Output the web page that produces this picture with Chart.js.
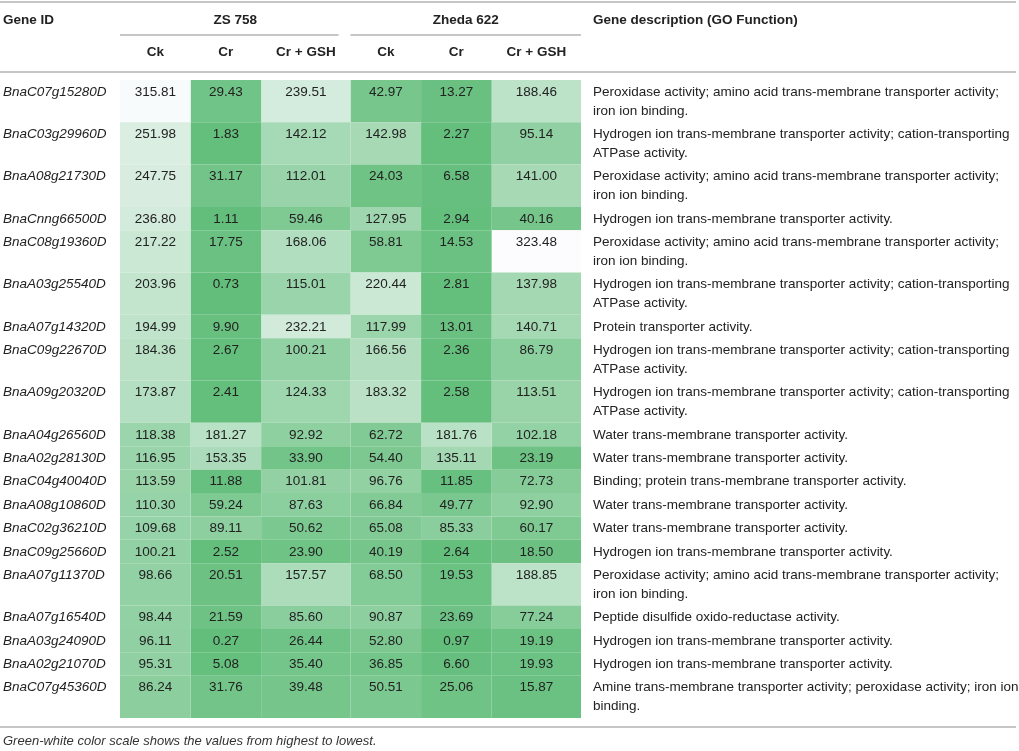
<!DOCTYPE html>
<html>
<head>
<meta charset="utf-8">
<script src="https://cdn.jsdelivr.net/npm/chart.js@4.4.1/dist/chart.umd.min.js"></script>
<style>
  html, body { margin: 0; padding: 0; background: #fff; }
  #wrap { position: relative; width: 1019px; height: 751px; }
</style>
</head>
<body>
<div id="wrap"><canvas id="heat"></canvas></div>
<script>
var geneIds = ['BnaC07g15280D', 'BnaC03g29960D', 'BnaA08g21730D', 'BnaCnng66500D', 'BnaC08g19360D',
  'BnaA03g25540D', 'BnaA07g14320D', 'BnaC09g22670D', 'BnaA09g20320D', 'BnaA04g26560D',
  'BnaA02g28130D', 'BnaC04g40040D', 'BnaA08g10860D', 'BnaC02g36210D', 'BnaC09g25660D',
  'BnaA07g11370D', 'BnaA07g16540D', 'BnaA03g24090D', 'BnaA02g21070D', 'BnaC07g45360D'];
var groups = ['ZS 758', 'Zheda 622'];
var treatments = ['Ck', 'Cr', 'Cr + GSH'];

var zsCk    = [315.81, 251.98, 247.75, 236.80, 217.22, 203.96, 194.99, 184.36, 173.87, 118.38,
               116.95, 113.59, 110.30, 109.68, 100.21, 98.66, 98.44, 96.11, 95.31, 86.24];
var zsCr    = [29.43, 1.83, 31.17, 1.11, 17.75, 0.73, 9.90, 2.67, 2.41, 181.27,
               153.35, 11.88, 59.24, 89.11, 2.52, 20.51, 21.59, 0.27, 5.08, 31.76];
var zsCrGsh = [239.51, 142.12, 112.01, 59.46, 168.06, 115.01, 232.21, 100.21, 124.33, 92.92,
               33.90, 101.81, 87.63, 50.62, 23.90, 157.57, 85.60, 26.44, 35.40, 39.48];
var zhCk    = [42.97, 142.98, 24.03, 127.95, 58.81, 220.44, 117.99, 166.56, 183.32, 62.72,
               54.40, 96.76, 66.84, 65.08, 40.19, 68.50, 90.87, 52.80, 36.85, 50.51];
var zhCr    = [13.27, 2.27, 6.58, 2.94, 14.53, 2.81, 13.01, 2.36, 2.58, 181.76,
               135.11, 11.85, 49.77, 85.33, 2.64, 19.53, 23.69, 0.97, 6.60, 25.06];
var zhCrGsh = [188.46, 95.14, 141.00, 40.16, 323.48, 137.98, 140.71, 86.79, 113.51, 102.18,
               23.19, 72.73, 92.90, 60.17, 18.50, 188.85, 77.24, 19.19, 19.93, 15.87];

var PEROX = ['Peroxidase activity; amino acid trans-membrane transporter activity;', 'iron ion binding.'];
var HYDRO_ATP = ['Hydrogen ion trans-membrane transporter activity; cation-transporting', 'ATPase activity.'];
var HYDRO = ['Hydrogen ion trans-membrane transporter activity.'];
var WATER = ['Water trans-membrane transporter activity.'];
var descriptions = [PEROX, HYDRO_ATP, PEROX, HYDRO, PEROX, HYDRO_ATP, ['Protein transporter activity.'],
  HYDRO_ATP, HYDRO_ATP, WATER, WATER, ['Binding; protein trans-membrane transporter activity.'],
  WATER, WATER, HYDRO, PEROX, ['Peptide disulfide oxido-reductase activity.'], HYDRO, HYDRO,
  ['Amine trans-membrane transporter activity; peroxidase activity; iron ion', 'binding.']];
var footnote = 'Green-white color scale shows the values from highest to lowest.';

// ---- layout ----
var FONT = "'Liberation Sans', Arial, Helvetica, sans-serif";
var colSpans = [15, 15, 19, 15, 15, 19];   // relative column widths, in slots
var ROW_PAD = 4.5, LINE_H = 18.9;
var RULE = '#c6c6c6', INK = '#222';

var columns = [zsCk, zsCr, zsCrGsh, zhCk, zhCr, zhCrGsh];

var slotLabels = [];
var centerSlot = [];
var s = 0;
colSpans.forEach(function (span) {
  centerSlot.push(String(s + (span - 1) / 2));
  s += span;
});
for (var i = 0; i < s; i++) slotLabels.push(String(i));

var rowTop = [], rowBot = [];
var acc = 0;
descriptions.forEach(function (d) {
  rowTop.push(acc);
  acc += ROW_PAD + LINE_H * d.length;
  rowBot.push(acc);
});
var totalH = acc;

var allVals = [].concat.apply([], columns);
var vMin = Math.min.apply(null, allVals), vMax = Math.max.apply(null, allVals);
var LOW = [99, 190, 123], HIGH = [252, 252, 255];
function cellColor(v) {
  var t = (v - vMin) / (vMax - vMin);
  var c = LOW.map(function (lo, k) { return Math.round(lo + (HIGH[k] - lo) * t); });
  return 'rgb(' + c.join(',') + ')';
}

var datasets = columns.map(function (vals, c) {
  return {
    label: groups[c < 3 ? 0 : 1] + ' ' + treatments[c % 3],
    data: vals.map(function (v, r) { return { x: centerSlot[c], y: [rowTop[r], rowBot[r]] }; }),
    backgroundColor: vals.map(cellColor),
    barPercentage: colSpans[c],
    categoryPercentage: 1,
    grouped: false,
    borderWidth: 0
  };
});

function hLine(ctx, x1, x2, y) {
  ctx.beginPath();
  ctx.moveTo(x1, y);
  ctx.lineTo(x2, y);
  ctx.stroke();
}

var tableText = {
  id: 'tableText',
  afterDatasetsDraw: function (chart) {
    var ctx = chart.ctx;
    var ys = chart.scales.y;
    var W = chart.width;
    var descX = chart.chartArea.right + 12;
    var bars = chart.data.datasets.map(function (d, c) { return chart.getDatasetMeta(c).data; });

    ctx.save();
    ctx.strokeStyle = RULE;
    ctx.lineWidth = 2;
    hLine(ctx, 0, W - 3, 2);
    hLine(ctx, 0, W - 3, 72);
    hLine(ctx, 0, W - 3, 727);

    ctx.fillStyle = INK;
    ctx.textBaseline = 'middle';

    // header
    ctx.font = 'bold 13.5px ' + FONT;
    ctx.textAlign = 'left';
    ctx.fillText('Gene ID', 3, 20);
    ctx.fillText('Gene description (GO Function)', descX, 20);
    groups.forEach(function (g, gi) {
      var first = bars[gi * 3][0], last = bars[gi * 3 + 2][0];
      var left = first.x - first.width / 2, right = last.x + last.width / 2;
      ctx.textAlign = 'center';
      ctx.fillText(g, (left + right) / 2, 20);
      hLine(ctx, left, gi === 0 ? right - 12 : right, 35);
    });
    bars.forEach(function (col, c) {
      ctx.textAlign = 'center';
      ctx.fillText(treatments[c % 3], col[0].x, 52);
    });

    // body
    ctx.font = '13.5px ' + FONT;
    geneIds.forEach(function (id, r) {
      var y0 = ys.getPixelForValue(rowTop[r]) + 12;
      ctx.textAlign = 'center';
      ctx.font = '13.5px ' + FONT;
      columns.forEach(function (vals, c) {
        ctx.fillText(vals[r].toFixed(2), bars[c][r].x, y0);
      });
      ctx.textAlign = 'left';
      descriptions[r].forEach(function (line, k) {
        ctx.fillText(line, descX, y0 + k * LINE_H);
      });
      ctx.font = 'italic 13.5px ' + FONT;
      ctx.fillText(id, 3, y0);
    });

    ctx.font = 'italic 13px ' + FONT;
    ctx.fillStyle = '#333';
    ctx.fillText(footnote, 3, 741);
    ctx.restore();
  }
};

new Chart(document.getElementById('heat'), {
  type: 'bar',
  data: { labels: slotLabels, datasets: datasets },
  options: {
    responsive: true,
    maintainAspectRatio: false,
    animation: false,
    events: [],
    layout: { padding: { left: 120, right: 438, top: 80, bottom: 33 } },
    plugins: { legend: { display: false }, tooltip: { enabled: false } },
    scales: {
      x: { type: 'category', display: false, offset: true, ticks: { autoSkip: false }, grid: { display: false } },
      y: { type: 'linear', display: false, min: 0, max: totalH, reverse: true }
    }
  },
  plugins: [tableText]
});
</script>
</body>
</html>
